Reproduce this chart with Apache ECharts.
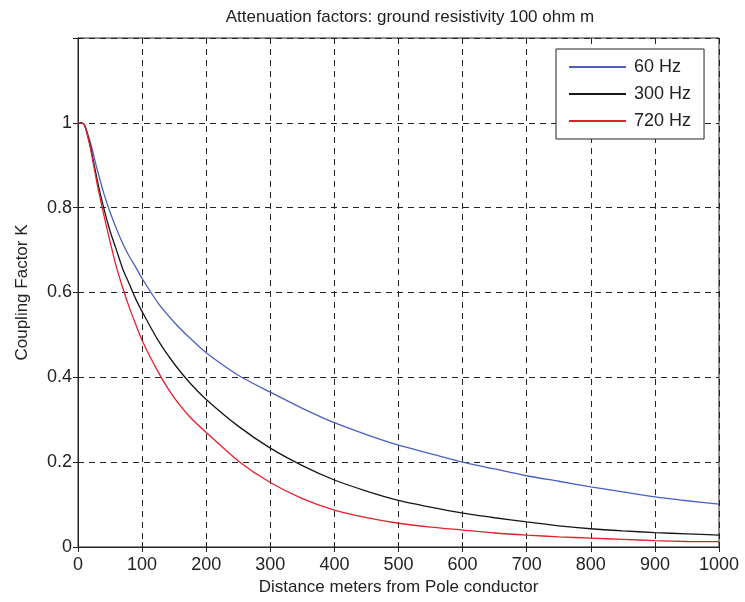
<!DOCTYPE html>
<html>
<head>
<meta charset="utf-8">
<title>Attenuation factors</title>
<script src="https://cdn.jsdelivr.net/npm/echarts@6/dist/echarts.min.js"></script>
<style>
  html, body { margin: 0; padding: 0; background: #fff; }
  #chart { width: 745px; height: 602px; }
</style>
</head>
<body>
<div id="chart"></div>
<script>
// distance along the line (m)
const distance = [0, 5, 10, 15, 20, 30, 40, 50, 60, 70, 80, 90, 100, 125, 150, 175, 200,
  250, 300, 350, 400, 450, 500, 550, 600, 650, 700, 750, 800, 850, 900, 950, 1000];

// coupling factor K
const k60 = [1.0, 1.0, 0.995, 0.975, 0.95, 0.89, 0.835, 0.79, 0.75, 0.715, 0.685, 0.66, 0.633,
  0.575, 0.53, 0.492, 0.458, 0.405, 0.365, 0.327, 0.293, 0.265, 0.24, 0.22, 0.2, 0.184,
  0.168, 0.155, 0.142, 0.13, 0.118, 0.109, 0.101];
const k300 = [1.0, 1.0, 0.995, 0.97, 0.94, 0.865, 0.8, 0.745, 0.7, 0.655, 0.62, 0.585, 0.555,
  0.487, 0.432, 0.386, 0.348, 0.285, 0.233, 0.192, 0.158, 0.132, 0.11, 0.094, 0.08, 0.069,
  0.059, 0.05, 0.043, 0.038, 0.034, 0.031, 0.028];
const k720 = [1.0, 1.0, 0.995, 0.97, 0.935, 0.855, 0.785, 0.72, 0.66, 0.61, 0.565, 0.525, 0.487,
  0.413, 0.352, 0.306, 0.27, 0.203, 0.152, 0.114, 0.087, 0.069, 0.056, 0.047, 0.04, 0.033,
  0.028, 0.024, 0.021, 0.018, 0.015, 0.013, 0.0125];

const seriesNames = ['60 Hz', '300 Hz', '720 Hz'];
const seriesColors = ['#4a5ec4', '#161616', '#e3202c'];

const pairs = (ys) => distance.map((x, i) => [x, ys[i]]);

const chart = echarts.init(document.getElementById('chart'));
const font = 'Liberation Sans, Arial, sans-serif';
const ink = '#222';

// grid lines: black dashes like the matlab figure
const dashed = { show: true, lineStyle: { color: ink, type: [6, 5], width: 1 } };
const tickIn = { inside: true, length: 5, lineStyle: { color: ink } };

chart.setOption({
  animation: false,
  title: {
    text: 'Attenuation factors: ground resistivity 100 ohm m',
    left: 405, top: 4, textAlign: 'center',
    textStyle: { fontFamily: font, fontSize: 17, fontWeight: 'normal', color: ink }
  },
  legend: {
    data: seriesNames,
    orient: 'vertical',
    left: 556, top: 49,
    padding: [9, 13, 9, 12],
    itemWidth: 57, itemHeight: 18, itemGap: 9,
    itemStyle: { opacity: 0 },
    backgroundColor: '#fff',
    borderColor: ink, borderWidth: 1, borderRadius: 0,
    textStyle: { fontFamily: font, fontSize: 18, color: ink, padding: [0, 0, 0, 3] }
  },
  grid: {
    left: 78, right: 26, top: 38, bottom: 55,
    show: true, borderColor: ink, borderWidth: 1, backgroundColor: '#fff'
  },
  xAxis: [{
    type: 'value', min: 0, max: 1000, interval: 100,
    name: 'Distance meters from Pole conductor',
    nameLocation: 'middle', nameGap: 23,
    nameTextStyle: { fontFamily: font, fontSize: 17, color: ink },
    axisLine: { lineStyle: { color: ink } },
    axisTick: tickIn,
    axisLabel: { fontFamily: font, fontSize: 18, color: ink, margin: 9, formatter: (v) => String(v) },
    splitLine: dashed
  }, {
    type: 'value', min: 0, max: 1000, interval: 100, position: 'top',
    axisLine: { show: true, lineStyle: { color: ink } },
    axisTick: tickIn,
    axisLabel: { show: false }, splitLine: { show: false }
  }],
  yAxis: [{
    type: 'value', min: 0, max: 1.2, interval: 0.2,
    name: 'Coupling Factor K',
    nameLocation: 'middle', nameGap: 47,
    nameTextStyle: { fontFamily: font, fontSize: 17, color: ink },
    axisLine: { show: true, lineStyle: { color: ink } },
    axisTick: tickIn,
    axisLabel: {
      fontFamily: font, fontSize: 18, color: ink, margin: 6,
      formatter: (v) => (v > 1.05 ? '' : String(Math.round(v * 10) / 10))
    },
    splitLine: dashed
  }, {
    type: 'value', min: 0, max: 1.2, interval: 0.2, position: 'right',
    axisLine: { show: true, lineStyle: { color: ink } },
    axisTick: tickIn,
    axisLabel: { show: false }, splitLine: { show: false }
  }],
  series: [k60, k300, k720].map((ys, i) => ({
    name: seriesNames[i],
    type: 'line',
    data: pairs(ys),
    symbol: 'none',
    smooth: 0.25,
    color: seriesColors[i],
    lineStyle: { width: 1.3, color: seriesColors[i] }
  }))
});
</script>
</body>
</html>
